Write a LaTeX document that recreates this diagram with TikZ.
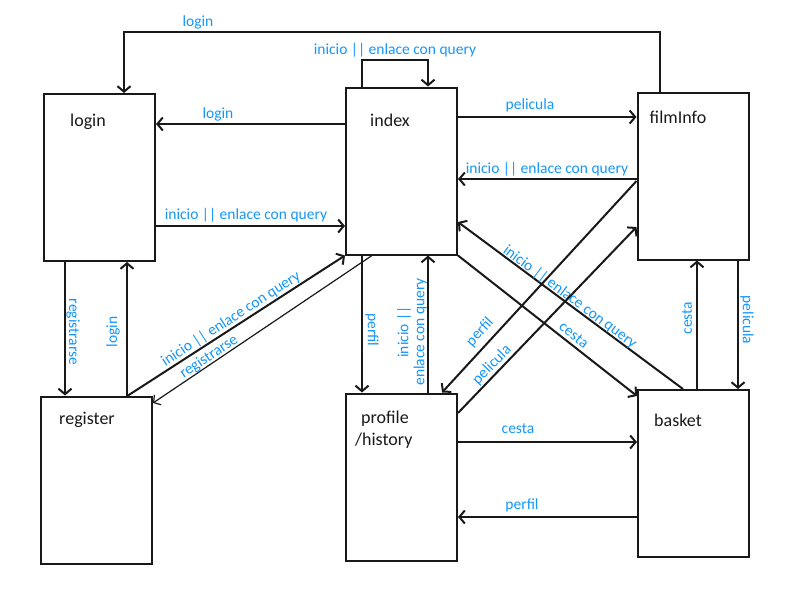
\documentclass[tikz,border=0pt]{standalone}
\usepackage{fontspec}
\setmainfont{Carlito}
\usetikzlibrary{arrows.meta}
\definecolor{lbl}{RGB}{20,150,250}
\definecolor{ink}{RGB}{25,25,25}
\begin{document}
\begin{tikzpicture}[x=1pt,y=-1pt,
  page/.style={draw=ink, line width=2pt, minimum width=111pt, minimum height=167pt, inner sep=0pt},
  title/.style={font=\fontsize{18}{22}\selectfont, text=ink, inner sep=0pt, align=left},
  flow/.style={draw=ink, line width=2pt, -{Straight Barb[length=5.5pt,width=13pt]}},
  thinflow/.style={draw=ink, line width=1.2pt, -{Straight Barb[length=5pt,width=12pt]}},
  tag/.style={font=\fontsize{15.5}{16}\selectfont, text=lbl, inner sep=0pt, align=center},
]
\useasboundingbox (0,0) rectangle (800,600);

% pages
\node[page] (login)   at (99.5,177.5) {};
\node[page] (index)   at (401.5,171)  {};
\node[page] (film)    at (693,176)    {};
\node[page] (reg)     at (96.5,480)   {};
\node[page] (profile) at (401.5,477)  {};
\node[page] (basket)  at (693.5,473.5){};

% page titles
\node[title] (loginT)   at (88,122)  {login};
\node[title] (indexT)   at (390,120) {index};
\node[title] (filmT)    at (678,117) {filmInfo};
\node[title] (regT)     at (87,420)  {register};
\node[title, anchor=north west] (profileT) at (355,411) {\hspace{6pt}profile\\/history};
\node[title] (basketT)  at (678,420) {basket};

% film -> login over the top
\draw[flow] (film.north -| 660,0) |- (124,32) -- (login.north -| 124,0);
\node[tag] (t1) at (198,22) {login};

% index self loop
\draw[flow] (index.north -| 362,0) |- (428,60) -- (index.north -| 428,0);
\node[tag] (t2) at (395,50) {inicio || enlace con query};

% login <-> index
\draw[flow] (index.west |- 0,124) -- (login.east |- 0,124);
\node[tag] (t3) at (218,114) {login};
\draw[flow] (login.east |- 0,226) -- (index.west |- 0,226);
\node[tag] (t4) at (246,215) {inicio || enlace con query};

% index <-> filmInfo
\draw[flow] (index.east |- 0,117) -- (film.west |- 0,117);
\node[tag] (t5) at (530,105) {pelicula};
\draw[flow] (film.west |- 0,179) -- (index.east |- 0,179);
\node[tag] (t6) at (547,169) {inicio || enlace con query};

% login <-> register
\draw[flow] (login.south -| 65,0) -- (reg.north -| 65,0);
\node[tag, rotate=-90] (t7) at (73,332) {registrarse};
\draw[flow] (reg.north -| 127,0) -- (login.south -| 127,0);
\node[tag, rotate=90] (t8) at (113,332) {login};

% register <-> index
\draw[flow] (reg.north -| 128,0) -- (index.south west);
\node[tag, rotate=33] (t9) at (231,319) {inicio || enlace con query};
\draw[thinflow] (index.south -| 372,0) -- (reg.east |- 0,403);
\node[tag, rotate=34] (t10) at (209,357) {registrarse};

% index <-> profile
\draw[flow] (index.south -| 362,0) -- (profile.north -| 362,0);
\node[tag, rotate=-90] (t11) at (372,330) {perfil};
\draw[flow] (profile.north -| 428,0) -- (index.south -| 428,0);
\node[tag, rotate=90] (t12) at (412,332) {inicio ||\\enlace con query};

% index <-> basket
\draw[flow] (index.south east) -- (basket.west |- 0,396);
\node[tag, rotate=-37.7] (t13) at (574,335) {cesta};
\draw[flow] (basket.north -| 683,0) -- (index.east |- 0,222);
\node[tag, rotate=-36.5] (t14) at (570,297) {inicio || enlace con query};

% filmInfo <-> profile
\draw[flow] (film.west |- 0,181) -- (profile.north -| 442,0);
\node[tag, rotate=48] (t15) at (480,332) {perfil};
\draw[flow] (profile.east |- 0,413) -- (film.west |- 0,227);
\node[tag, rotate=46] (t16) at (492,365) {pelicula};

% profile <-> basket
\draw[flow] (profile.east |- 0,442) -- (basket.west |- 0,442);
\node[tag] (t17) at (518,429) {cesta};
\draw[flow] (basket.west |- 0,517) -- (profile.east |- 0,517);
\node[tag] (t18) at (522,505) {perfil};

% basket <-> filmInfo
\draw[flow] (basket.north -| 697,0) -- (film.south -| 697,0);
\node[tag, rotate=90] (t19) at (687,318) {cesta};
\draw[flow] (film.south -| 738,0) -- (basket.north -| 738,0);
\node[tag, rotate=-90] (t20) at (747,320) {pelicula};
\end{tikzpicture}
\end{document}
